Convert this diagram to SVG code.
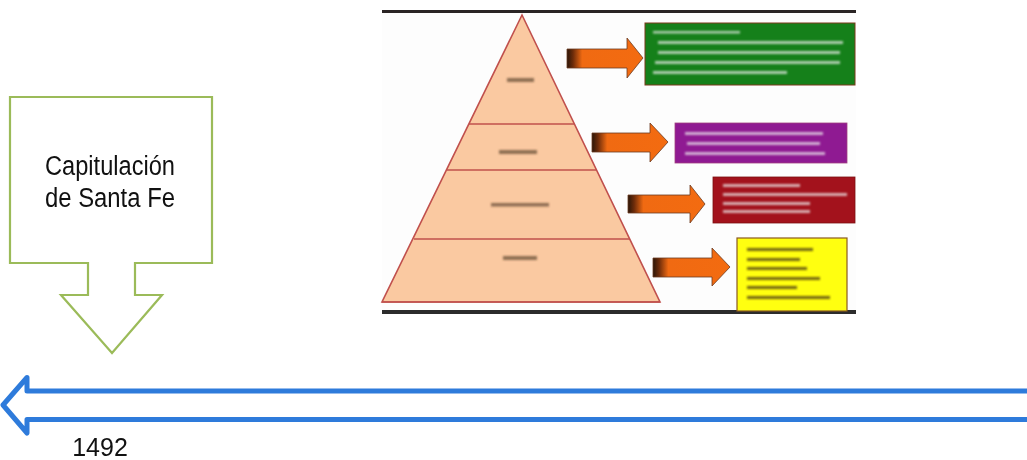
<svg xmlns="http://www.w3.org/2000/svg" width="1027" height="460" viewBox="0 0 1027 460">
  <style>
    .lbl { font-family: "Liberation Sans", Arial, sans-serif; fill: #111; }
    .band { stroke: #c0504d; stroke-width: 1.6; }
    .arr { fill: url(#orangeGrad); stroke: #6b3b22; stroke-width: 0.8; stroke-linejoin: miter; }
    .wline { fill: #eeeeee; opacity: 0.7; }
    .dline { fill: #3a2a10; opacity: 0.7; }
    .plabel { fill: #4a3420; opacity: 0.6; }
  </style>
  <defs>
    <linearGradient id="orangeGrad" x1="0" y1="0" x2="1" y2="0">
      <stop offset="0" stop-color="#2b1608"/>
      <stop offset="0.08" stop-color="#6e2c0a"/>
      <stop offset="0.2" stop-color="#f06a12"/>
      <stop offset="1" stop-color="#f36b10"/>
    </linearGradient>
    <filter id="blur" x="-10%" y="-50%" width="120%" height="200%">
      <feGaussianBlur stdDeviation="1"/>
    </filter>
  </defs>

  <!-- Pyramid picture -->
  <g id="pyramid-image">
    <rect x="382" y="12" width="474" height="301" fill="#fdfdfd"/>
    <rect x="382" y="10" width="474" height="3" fill="#2a2424"/>
    <rect x="382" y="310" width="474" height="4" fill="#2c2c2c"/>
    <polygon points="522,15 382,302 660,302" fill="#fac9a1" stroke="#c0504d" stroke-width="1.6"/>
    <line class="band" x1="469" y1="124" x2="574" y2="124"/>
    <line class="band" x1="447" y1="170" x2="597" y2="170"/>
    <line class="band" x1="414" y1="239" x2="630" y2="239"/>
    <line class="band" x1="382" y1="302" x2="660" y2="302"/>
    <g filter="url(#blur)">
      <rect class="plabel" x="507" y="78" width="27" height="4"/>
      <rect class="plabel" x="499" y="150" width="38" height="4"/>
      <rect class="plabel" x="491" y="203" width="58" height="3.5" opacity="0.4"/>
      <rect class="plabel" x="503" y="256" width="34" height="4"/>
    </g>

    <!-- orange arrows -->
    <polygon class="arr" points="567,49 627,49 627,38 643,58 627,78 627,68 567,68"/>
    <polygon class="arr" points="592,133 650,133 650,123 668,142 650,162 650,152 592,152"/>
    <polygon class="arr" points="628,195 690,195 690,185 705,204 690,223 690,213 628,213"/>
    <polygon class="arr" points="653,258 712,258 712,248 730,267 712,286 712,277 653,277"/>

    <!-- coloured boxes -->
    <rect x="645" y="23" width="210" height="62" fill="#15801a" stroke="#7a3a1a" stroke-width="1"/>
    <rect x="675" y="123" width="172" height="40" fill="#8f1a92" stroke="#a04080" stroke-width="0.8"/>
    <rect x="713" y="177" width="142" height="46" fill="#a3121c" stroke="#7a1010" stroke-width="0.8"/>
    <rect x="737" y="238" width="110" height="73" fill="#ffff10" stroke="#8a5a20" stroke-width="1.2"/>

    <g filter="url(#blur)">
      <rect class="wline" x="653" y="31" width="87" height="2.5"/>
      <rect class="wline" x="658" y="41" width="185" height="3"/>
      <rect class="wline" x="658" y="51" width="182" height="3"/>
      <rect class="wline" x="655" y="61" width="185" height="3"/>
      <rect class="wline" x="653" y="71" width="134" height="3"/>

      <rect class="wline" x="685" y="132" width="138" height="3"/>
      <rect class="wline" x="687" y="142" width="133" height="3"/>
      <rect class="wline" x="685" y="152" width="140" height="3"/>

      <rect class="wline" x="723" y="184" width="77" height="3"/>
      <rect class="wline" x="723" y="193" width="124" height="3"/>
      <rect class="wline" x="723" y="202" width="87" height="3"/>
      <rect class="wline" x="723" y="210" width="87" height="3"/>

      <rect class="dline" x="747" y="248" width="66" height="3"/>
      <rect class="dline" x="747" y="258" width="53" height="3"/>
      <rect class="dline" x="747" y="267" width="60" height="3"/>
      <rect class="dline" x="747" y="277" width="73" height="3"/>
      <rect class="dline" x="747" y="286" width="50" height="3"/>
      <rect class="dline" x="747" y="296" width="83" height="3"/>
    </g>
  </g>

  <!-- Down-arrow callout -->
  <g id="callout-capitulacion">
    <polygon points="10,97 212,97 212,263 135,263 135,295 162,295 112,353 61,295 88,295 88,263 10,263" fill="#ffffff" stroke="#9bbb59" stroke-width="2.2" stroke-linejoin="miter"/>
    <text class="lbl" x="110" y="175" font-size="27" text-anchor="middle" textLength="130" lengthAdjust="spacingAndGlyphs">Capitulación</text>
    <text class="lbl" x="110" y="207" font-size="27" text-anchor="middle" textLength="130" lengthAdjust="spacingAndGlyphs">de Santa Fe</text>
  </g>

  <!-- Timeline arrow -->
  <g id="connectors">
    <path d="M 1032,391 L 27,391 L 27,377.5 L 3,405 L 27,433 L 27,419.5 L 1032,419.5" fill="none" stroke="#2e7bdb" stroke-width="5" stroke-linejoin="round" stroke-linecap="round"/>
  </g>

  <g id="label-1492">
    <text class="lbl" x="100" y="456" font-size="25" text-anchor="middle">1492</text>
  </g>
</svg>
